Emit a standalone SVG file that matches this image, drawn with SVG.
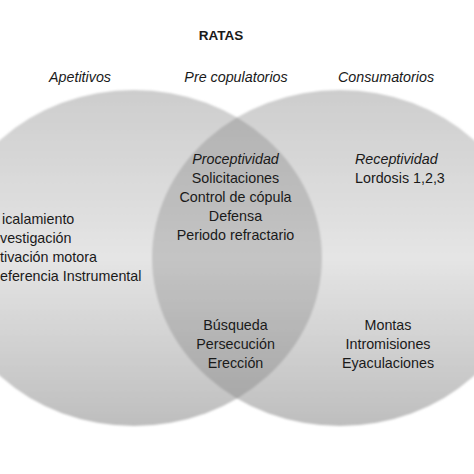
<svg xmlns="http://www.w3.org/2000/svg" width="474" height="474" viewBox="0 0 474 474">
<defs>
<linearGradient id="g" x1="0" y1="0" x2="0" y2="1">
<stop offset="0" stop-color="#cdcdcd"/>
<stop offset="0.5" stop-color="#e5e5e5"/>
<stop offset="1" stop-color="#bebebe"/>
</linearGradient>
<clipPath id="clipLeft"><ellipse cx="134" cy="258" rx="188" ry="168"/></clipPath>
<filter id="soft" x="-10%" y="-10%" width="120%" height="120%"><feGaussianBlur stdDeviation="0.8"/></filter>
</defs>
<style>
.e{fill:url(#g);}
text{font-family:"Liberation Sans",Arial,sans-serif;font-size:14.3px;fill:#1a1a1a;}
.c{text-anchor:middle;}
.i{font-style:italic;}
.t{font-weight:bold;font-size:13.5px;}
</style>
<rect width="474" height="474" fill="#ffffff"/>
<g id="circles" filter="url(#soft)">
<ellipse id="left-circle" class="e" cx="134" cy="258" rx="188" ry="168"/>
<ellipse id="right-circle" class="e" cx="340" cy="258" rx="188" ry="168"/>
<ellipse id="overlap" clip-path="url(#clipLeft)" cx="340" cy="258" rx="188" ry="168" fill="#000000" fill-opacity="0.14"/>
</g>
<g id="title"><text class="t c" x="221" y="40">RATAS</text></g>
<g id="headers">
<text class="i c" x="80" y="82">Apetitivos</text>
<text class="i c" x="236" y="82">Pre copulatorios</text>
<text class="i c" x="386" y="82">Consumatorios</text>
</g>
<g id="apetitivos">
<text x="2" y="224">icalamiento</text>
<text x="0" y="243">vestigación</text>
<text x="0" y="262">tivación motora</text>
<text x="0" y="281">eferencia Instrumental</text>
</g>
<g id="precopulatorios-top">
<text class="i c" x="235.5" y="164">Proceptividad</text>
<text class="c" x="235.5" y="183">Solicitaciones</text>
<text class="c" x="235.5" y="202">Control de cópula</text>
<text class="c" x="235.5" y="221">Defensa</text>
<text class="c" x="235.5" y="240">Periodo refractario</text>
</g>
<g id="receptividad">
<text class="i" x="355" y="164">Receptividad</text>
<text x="355" y="183">Lordosis 1,2,3</text>
</g>
<g id="precopulatorios-bottom">
<text class="c" x="235.5" y="330">Búsqueda</text>
<text class="c" x="235.5" y="349">Persecución</text>
<text class="c" x="235.5" y="368">Erección</text>
</g>
<g id="consumatorios">
<text class="c" x="388" y="330">Montas</text>
<text class="c" x="388" y="349">Intromisiones</text>
<text class="c" x="388" y="368">Eyaculaciones</text>
</g>
<g id="connectors"/>
</svg>
